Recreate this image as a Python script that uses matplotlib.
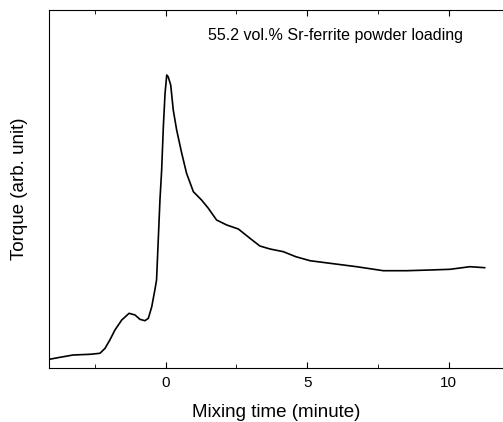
import matplotlib.pyplot as plt
from matplotlib.ticker import MultipleLocator

plt.rcParams['font.family'] = ['Liberation Sans', 'DejaVu Sans']

# torque curve (arbitrary units)
time_min = [-4.11, -3.73, -3.27, -2.67, -2.32, -2.14, -1.97, -1.79, -1.55, -1.29,
            -1.08, -0.91, -0.73, -0.61, -0.49, -0.38, -0.32, -0.20, -0.14, -0.08,
            -0.02, 0.04, 0.09, 0.18, 0.27, 0.39, 0.57, 0.74, 0.98, 1.27,
            1.51, 1.80, 2.16, 2.57, 2.98, 3.33, 3.69, 4.16, 4.60, 5.10,
            5.81, 6.75, 7.69, 8.52, 9.34, 10.05, 10.75, 11.28]
torque = [8.7, 10.7, 13.0, 13.7, 14.7, 19.7, 28.0, 38.0, 48.0, 54.7,
          53.0, 48.7, 47.3, 49.7, 61.3, 78.0, 88.0, 168.0, 198.0, 241.3,
          274.7, 293.0, 291.3, 283.0, 258.0, 238.0, 214.7, 194.7, 176.3, 168.0,
          159.7, 148.0, 143.0, 139.0, 129.7, 122.0, 119.0, 116.3, 111.3, 107.3,
          104.7, 101.3, 97.3, 97.3, 98.0, 98.7, 101.3, 100.3]

fig = plt.figure(figsize=(5.03, 4.22), dpi=100)
ax = fig.add_axes([49 / 503, 54 / 422, 454 / 503, 358 / 422])

ax.plot(time_min, torque, color='black', linewidth=1.2,
        solid_joinstyle='round', solid_capstyle='round')

ax.set_xlim(-4.12, 11.92)
ax.set_ylim(0, 358)
ax.spines['right'].set_visible(False)

ax.xaxis.set_major_locator(MultipleLocator(5))
ax.xaxis.set_minor_locator(MultipleLocator(2.5))
ax.tick_params(axis='x', which='both', direction='in', top=True,
               labelsize=11, pad=6)
ax.tick_params(axis='x', which='major', length=4)
ax.tick_params(axis='x', which='minor', length=3)
ax.set_yticks([])

ax.set_xlabel("Mixing time (minute)", fontsize=13.5, labelpad=10)
ax.set_ylabel("Torque (arb. unit)", fontsize=13.5, labelpad=15)
ax.text(0.63, 0.93, "55.2 vol.% Sr-ferrite powder loading",
        transform=ax.transAxes, ha='center', va='center', fontsize=11.5)

plt.savefig("out.png", dpi=100)
plt.close()
